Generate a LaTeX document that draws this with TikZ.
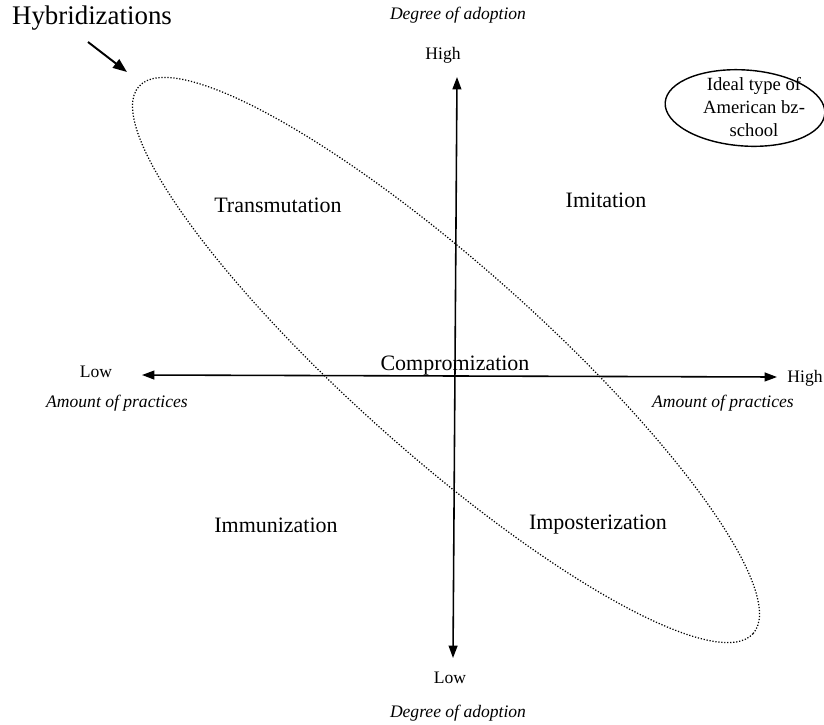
\documentclass[tikz,border=0pt]{standalone}
\usepackage{fontspec}
\setmainfont{Liberation Serif}
\usepackage{tikz}
\usetikzlibrary{positioning, arrows.meta, shapes.geometric}

\tikzset{
    axis/.style={line width=0.9pt, {Triangle[length=7pt,width=5pt]}-{Triangle[length=7pt,width=5pt]}},
    quadrant/.style={font=\fontsize{12.5}{15}\selectfont},
    endlabel/.style={font=\fontsize{10}{12}\selectfont},
    axisname/.style={font=\fontsize{10}{12}\selectfont\itshape}
}

\begin{document}
\begin{tikzpicture}
        \useasboundingbox (0,0) rectangle (16.48,-14.48);
        % ends of the two axes
        \coordinate (N) at (9.14,-1.54);
        \coordinate (S) at (9.06,-13.16);
        \coordinate (W) at (2.84,-7.5);
        \coordinate (E) at (15.54,-7.54);
        \draw[axis] (S) -- (N);
        \draw[axis] (W) -- (E);
        % axis labels
        \node[axisname] (topname) at (9.16,-0.3) {Degree of adoption};
        \node[endlabel] (tophigh) at (8.86,-1.1) {High};
        \node[endlabel] (botlow) at (9.0,-13.56) {Low};
        \node[axisname] (botname) at (9.16,-14.26) {Degree of adoption};
        \node[endlabel] (leftlow) at (1.92,-7.44) {Low};
        \node[axisname] (leftname) at (2.34,-8.06) {Amount of practices};
        \node[endlabel] (righthigh) at (16.1,-7.56) {High};
        \node[axisname] (rightname) at (14.46,-8.06) {Amount of practices};
        % quadrants
        \node[quadrant] (trans) at (5.56,-4.1) {Transmutation};
        \node[quadrant] (imit) at (12.12,-4.0) {Imitation};
        \node[quadrant] (immun) at (5.52,-10.5) {Immunization};
        \node[quadrant] (impost) at (11.96,-10.5) {Imposterization};
        \node[quadrant] (compro) at (9.1,-7.32) {Compromization};
        % hybridizations
        \draw[densely dotted, line width=0.7pt, black] (8.92,-7.2) ellipse [x radius=8.226cm, y radius=1.888cm, rotate=-41.7];
        \node[font=\fontsize{15.3}{18}\selectfont] (hyb) at (1.84,-0.36) {Hybridizations};
        \coordinate (hybtail) at (1.76,-0.84);
        \coordinate (hybtip) at (2.54,-1.44);
        \draw[line width=1.1pt, -{Triangle[length=8pt,width=6pt]}] (hybtail) -- (hybtip);
        % ideal type
        \draw[line width=0.8pt, rotate around={-4:(14.9,-2.16)}] (14.9,-2.16) ellipse [x radius=1.6cm, y radius=0.76cm];
        \node[align=center, font=\fontsize{10.6}{13.3}\selectfont] (ideal) at (15.08,-2.14) {Ideal type of\\American bz-\\school};
    \end{tikzpicture}
\end{document}
